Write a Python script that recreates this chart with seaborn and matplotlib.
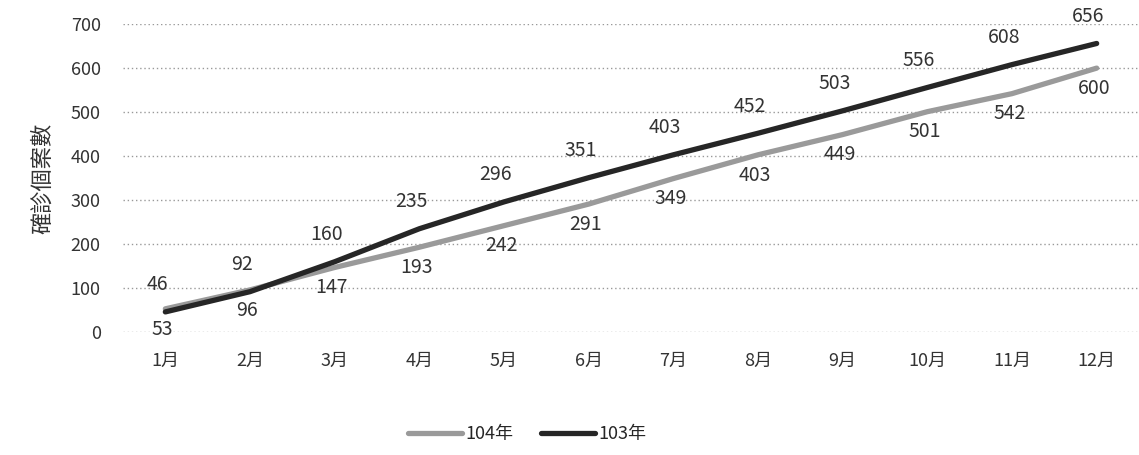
import pandas as pd
import matplotlib.pyplot as plt
import seaborn as sns

# Data
months = ["1月", "2月", "3月", "4月", "5月", "6月", "7月", "8月", "9月", "10月", "11月", "12月"]
cases_104 = [53, 96, 147, 193, 242, 291, 349, 403, 449, 501, 542, 600]
cases_103 = [46, 92, 160, 235, 296, 351, 403, 452, 503, 556, 608, 656]
series_names = ["104年", "103年"]

sns.set_theme(style="white")
plt.rcParams['font.family'] = ['Noto Sans CJK TC', 'DejaVu Sans']

df = pd.DataFrame({
    "month": months * 2,
    "cases": cases_104 + cases_103,
    "year": [series_names[0]] * len(months) + [series_names[1]] * len(months),
})

fig = plt.figure(figsize=(11.39, 4.55), dpi=100)
ax = fig.add_axes([0.108, 0.270, 0.892, 0.677])

palette = {"104年": "#9a9a9a", "103年": "#262626"}
sns.lineplot(data=df, x="month", y="cases", hue="year", hue_order=series_names,
             palette=palette, linewidth=3.8, sort=False, ax=ax, legend=True)

# data labels: 103 above, 104 below
for i, v in enumerate(cases_103):
    ax.annotate(str(v), (i, v), xytext=(-6, 12), textcoords="offset points",
                ha="center", va="bottom", fontsize=14, color="#333333")
for i, v in enumerate(cases_104):
    ax.annotate(str(v), (i, v), xytext=(-2, -7), textcoords="offset points",
                ha="center", va="top", fontsize=14, color="#333333")

ax.set_ylim(0, 700)
ax.set_xlim(-0.5, len(months) - 0.5)
ax.set_yticks(range(0, 701, 100))
ax.grid(axis="y", linestyle=(0, (1, 2)), color="#999999", linewidth=1)
for s in ax.spines.values():
    s.set_visible(False)
ax.tick_params(axis="both", labelsize=13, colors="#333333", length=0)
ax.tick_params(axis="x", pad=14)
ax.tick_params(axis="y", pad=16)
ax.set_xlabel("")
ax.set_ylabel("確診個案數", fontsize=16, color="#333333", labelpad=12)

handles, labels = ax.get_legend_handles_labels()
ax.get_legend().remove()
fig.legend(handles, labels, loc="lower center", bbox_to_anchor=(0.463, -0.01), ncol=2,
           frameon=False, fontsize=13, handlelength=3.0, columnspacing=1.5,
           handletextpad=0.2)

fig.savefig("out.png", dpi=100)
